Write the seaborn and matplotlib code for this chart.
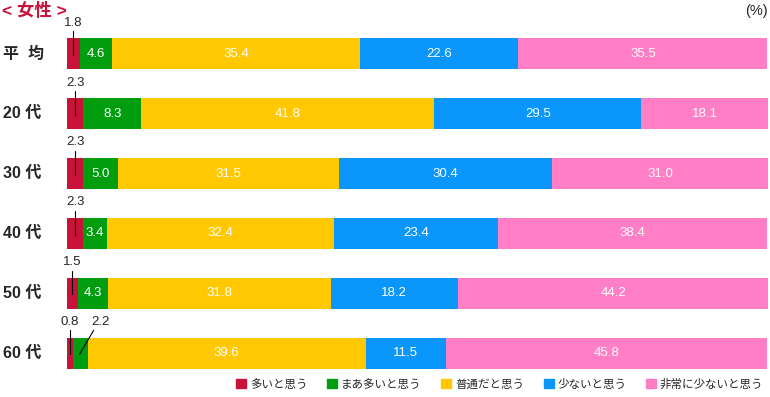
import numpy as np
import pandas as pd
import matplotlib
matplotlib.use('Agg')
import matplotlib.pyplot as plt
import seaborn as sns

sns.set_style('white')
plt.rcParams['font.family'] = ['Liberation Sans', 'Noto Sans CJK JP', 'DejaVu Sans']

# data
ages = ['平  均', '20 代', '30 代', '40 代', '50 代', '60 代']
series = ['多いと思う', 'まあ多いと思う', '普通だと思う', '少ないと思う', '非常に少ないと思う']
often = [1.8, 2.3, 2.3, 2.3, 1.5, 0.8]
somewhat = [4.6, 8.3, 5.0, 3.4, 4.3, 2.2]
normal = [35.4, 41.8, 31.5, 32.4, 31.8, 39.6]
few = [22.6, 29.5, 30.4, 23.4, 18.2, 11.5]
very_few = [35.5, 18.1, 31.0, 38.4, 44.2, 45.8]
colors = ['#C8123A', '#009E0F', '#FFC800', '#0A96FA', '#FF7EC6']

vals = np.array([often, somewhat, normal, few, very_few])
cum = vals.cumsum(axis=0)
df = pd.DataFrame({'age': ages})
for k in range(len(series)):
    df['c%d' % k] = cum[k]

fig = plt.figure(figsize=(7.7, 3.97), dpi=100)
ax = fig.add_axes([67 / 770, 14 / 397, 701 / 770, 359 / 397])

# stacked bars: draw cumulative totals from largest to smallest
for k in reversed(range(len(series))):
    sns.barplot(data=df, x='c%d' % k, y='age', orient='h', color=colors[k],
                width=0.52, saturation=1, ax=ax, linewidth=0)

ax.set_xlim(0, 100)
ax.set_ylim(5.5, -0.5)
ax.set_xlabel('')
ax.set_ylabel('')
ax.set_xticks([])
ax.set_yticks([])
sns.despine(ax=ax, left=True, bottom=True)

# row labels
for i, a in enumerate(ages):
    ax.text(-64 / 701 * 100, i, a, ha='left', va='center', fontsize=11.5,
            fontweight='bold', family=['Liberation Sans', 'Noto Sans CJK JP'], clip_on=False)

# value labels
for i in range(len(ages)):
    left = 0
    for k in range(len(series)):
        v = vals[k][i]
        mid = left + v / 2
        if k == 0:
            ax.text(mid, i - 0.52, f'{v:.1f}', ha='center', va='center', fontsize=9.5)
            ax.plot([mid, mid], [i - 0.38, i + 0.02], color='black', lw=0.8)
        elif k == 1 and v < 3:
            ax.text(mid + 2.95, i - 0.52, f'{v:.1f}', ha='center', va='center', fontsize=9.5)
            ax.plot([mid + 1.9, mid - 0.1], [i - 0.38, i + 0.02], color='black', lw=0.8)
        else:
            ax.text(mid, i, f'{v:.1f}', ha='center', va='center', fontsize=9.5, color='white')
        left += v

fig.text(2 / 770, 1 - 10 / 397, '< 女性 >', color='#C8123A', fontsize=12.5,
         fontweight='bold', va='center', ha='left')
fig.text(768 / 770, 1 - 11 / 397, '(%)', fontsize=10.5, va='center', ha='right')

handles = [plt.Rectangle((0, 0), 1, 1, color=c) for c in colors]
fig.legend(handles, series, loc='lower right', bbox_to_anchor=(1.005, -0.01), ncol=5,
           frameon=False, fontsize=8.3, handlelength=0.85, handleheight=0.85,
           handletextpad=0.35, columnspacing=1.7)

fig.savefig('out.png', dpi=100)
